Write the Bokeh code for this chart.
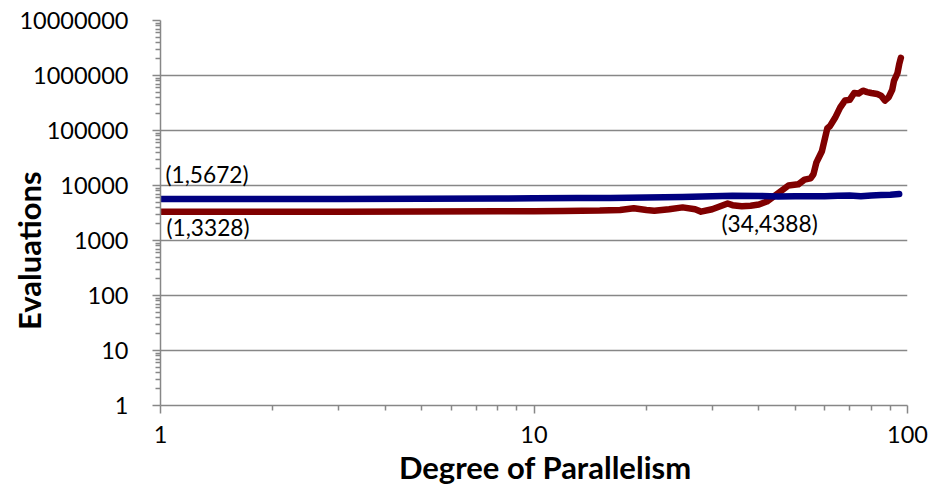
import math
from bokeh.plotting import figure
from bokeh.models import FixedTicker, Label
from bokeh.embed import file_html
from bokeh.resources import INLINE

# ---- data ----
x_red = [1, 2, 3, 5, 8, 10, 12, 15, 17, 18.5, 20, 21, 23, 25, 27, 28, 30, 33, 34,
         36, 38, 40, 42, 45, 48, 51, 53, 55, 56, 57, 59, 61, 62, 64, 66, 68, 70,
         72, 74, 76, 78, 80, 83, 85, 87, 89, 91, 92, 94, 95, 96]
y_red = [3328, 3330, 3340, 3380, 3400, 3420, 3450, 3500, 3600, 3850, 3600, 3480,
         3700, 4000, 3700, 3350, 3700, 4700, 4388, 4200, 4300, 4500, 5100, 7200,
         10000, 10500, 12800, 13500, 16000, 26000, 42000, 110000, 120000, 170000,
         260000, 350000, 360000, 480000, 470000, 530000, 500000, 480000, 460000,
         430000, 350000, 400000, 550000, 800000, 1100000, 1600000, 2100000]

x_blue = [1, 2, 3, 5, 8, 10, 13, 16, 20, 25, 30, 34, 40, 45, 50, 55, 60, 65, 70,
          75, 80, 85, 90, 95]
y_blue = [5672, 5680, 5700, 5720, 5800, 5850, 5900, 5950, 6050, 6200, 6400, 6500,
          6450, 6300, 6350, 6400, 6350, 6500, 6550, 6400, 6600, 6700, 6800, 7000]

y_tick_values = [1, 10, 100, 1000, 10000, 100000, 1000000, 10000000]
y_tick_labels = ["1", "10", "100", "1000", "10000", "100000", "1000000", "10000000"]
x_tick_values = [1, 10, 100]
x_tick_labels = ["1", "10", "100"]

annotations = [  # (x, y, text)
    (1, 5672, "(1,5672)"),
    (1, 3328, "(1,3328)"),
    (34, 4388, "(34,4388)"),
]
x_title = "Degree of Parallelism"
y_title = "Evaluations"

GRID = "#878787"
FONT = "Lato"
NBSP = "\u00a0"

p = figure(width=942, height=494, x_axis_type="log", y_axis_type="log",
           x_range=(1, 100), y_range=(1, 10000000),
           output_backend="svg", toolbar_location=None)
p.min_border_left = 160
p.min_border_right = 35
p.min_border_top = 20
p.min_border_bottom = 89
p.outline_line_color = None
p.background_fill_color = "white"
p.border_fill_color = "white"

def minors(vals):
    out = []
    for v in vals[:-1]:
        for m in range(2, 10):
            out.append(v * m)
    return out

p.yaxis.ticker = FixedTicker(ticks=y_tick_values, minor_ticks=minors(y_tick_values))
p.xaxis.ticker = FixedTicker(ticks=x_tick_values, minor_ticks=minors(x_tick_values))
p.yaxis.major_label_overrides = {int(v): s for v, s in zip(y_tick_values, y_tick_labels)}
p.xaxis.major_label_overrides = {int(v): s for v, s in zip(x_tick_values, x_tick_labels)}

for ax in (p.xaxis, p.yaxis):
    ax.axis_line_color = GRID
    ax.axis_line_width = 1.5
    ax.major_tick_line_color = GRID
    ax.minor_tick_line_color = GRID
    ax.major_tick_line_width = 1.5
    ax.minor_tick_line_width = 1.5
    ax.major_tick_in = 0
    ax.minor_tick_in = 0
    ax.major_label_text_font = FONT
    ax.major_label_text_font_size = "23.5px"
    ax.major_label_text_color = "black"
    ax.axis_label_text_font = FONT
    ax.axis_label_text_font_style = "bold"
    ax.axis_label_text_font_size = "31px"
    ax.axis_label_text_color = "black"

p.yaxis.major_tick_out = 8
p.yaxis.minor_tick_out = 5
p.yaxis.major_label_standoff = 24
p.xaxis.major_tick_out = 8
p.xaxis.minor_tick_out = 5
p.xaxis.major_label_standoff = 12

# no-break spaces nudge the titles off-centre, as in the reference
p.xaxis.axis_label = NBSP * 3 + x_title
p.xaxis.axis_label_standoff = 2
p.yaxis.axis_label = y_title + NBSP * 10
p.yaxis.axis_label_standoff = -32

p.xgrid.grid_line_color = None
p.ygrid.grid_line_color = GRID
p.ygrid.grid_line_width = 1.5
p.ygrid.ticker = p.yaxis.ticker

p.line(x_red, y_red, line_color="#800000", line_width=6.5,
       line_join="round", line_cap="round")
p.line(x_blue, y_blue, line_color="#000080", line_width=6.5,
       line_join="round", line_cap="round")

offsets = [(5, 25, "left"), (6, -16, "left"), (-11, -18, "left")]
for (ax_, ay_, t), (dx, dy, al) in zip(annotations, offsets):
    p.add_layout(Label(x=ax_, y=ay_, text=t, x_offset=dx, y_offset=dy,
                       text_align=al, text_baseline="middle",
                       text_font=FONT, text_font_size="22.7px", text_color="black"))

open("out.html", "w").write(file_html(p, INLINE))
